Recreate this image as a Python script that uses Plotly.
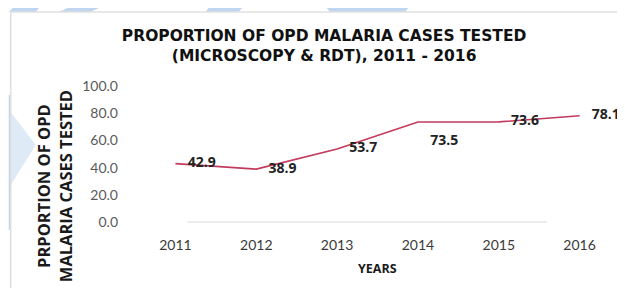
import plotly.graph_objects as go

years = ["2011", "2012", "2013", "2014", "2015", "2016"]
proportion_tested = [42.9, 38.9, 53.7, 73.5, 73.6, 78.1]
label_positions = ["middle right", "middle right", "middle right", "bottom right", "middle right", "middle right"]
y_ticks = [0, 20, 40, 60, 80, 100]

# page offset: browser body margin shifts the figure by 8px
OFF = 8
PAGE_W, PAGE_H = 625, 288
W, H = PAGE_W - OFF, PAGE_H - OFF
# plot area in page pixels
L, R, T, B = 134.5, 620.5, 86, 222


def px(x):
    return (x - L) / (R - L)


def py(y):
    return (B - y) / (B - T)


def poly(points):
    return "M " + " L ".join(f"{px(x):.4f},{py(y):.4f}" for x, y in points) + " Z"


fig = go.Figure()
fig.add_trace(go.Scatter(
    x=years, y=proportion_tested,
    mode="lines+markers+text",
    line=dict(color="#c23a5c", width=1.6),
    marker=dict(size=18, color="rgba(0,0,0,0)"),
    text=[f"{v:.1f}" for v in proportion_tested],
    textposition=label_positions,
    textfont=dict(family="Open Sans", size=14, color="#222222", weight="bold"),
    cliponaxis=False,
    hoverinfo="skip",
))

blue = "rgba(175,203,236,0.8)"
blue_faint = "rgba(175,203,236,0.4)"
shapes = [
    dict(type="path", path=poly([(20, 0), (45, 0), (35, 12), (8, 12)]), fillcolor=blue, line_width=0, layer="below"),
    dict(type="path", path=poly([(85, 0), (115, 0), (90, 12), (58, 12)]), fillcolor=blue, line_width=0, layer="below"),
    dict(type="path", path=poly([(215, 0), (250, 0), (238, 12), (205, 12)]), fillcolor=blue, line_width=0, layer="below"),
    dict(type="path", path=poly([(320, 0), (345, 0), (360, 8), (380, 8), (400, 0), (415, 0), (405, 12), (330, 12)]), fillcolor=blue, line_width=0, layer="below"),
    dict(type="path", path=poly([(8, 95), (10, 95), (10, 230), (8, 230)]), fillcolor=blue, line_width=0, layer="below"),
    dict(type="path", path=poly([(10, 112), (35, 145), (10, 185)]), fillcolor=blue_faint, line_width=0, layer="below"),
    dict(type="line", x0=px(9), x1=px(625), y0=py(12), y1=py(12), line=dict(color="#e0e0e0", width=1.5), layer="below"),
    dict(type="line", x0=px(10), x1=px(10), y0=py(12), y1=py(288), line=dict(color="#e0e0e0", width=1.5), layer="below"),
    dict(type="line", x0=px(187), x1=px(547), y0=0, y1=0, line=dict(color="#d9d9d9", width=1), layer="below"),
]
for s in shapes:
    s.setdefault("xref", "paper")
    s.setdefault("yref", "paper")

fig.update_layout(
    width=W, height=H,
    margin=dict(l=L - OFF, r=W - (R - OFF), t=T - OFF, b=H - (B - OFF)),
    paper_bgcolor="white",
    plot_bgcolor="rgba(0,0,0,0)",
    showlegend=False,
    shapes=shapes,
    title=dict(
        text="PROPORTION OF OPD MALARIA CASES TESTED<br>(MICROSCOPY &amp; RDT), 2011 - 2016",
        x=px(324), xanchor="center", xref="paper",
        y=1 - 33 / H, yanchor="top",
        font=dict(family="DejaVu Sans", size=15.5, color="#111111", weight="bold"),
    ),
    xaxis=dict(
        type="category", range=[-0.5, 5.5],
        showgrid=False, zeroline=False, showline=False,
        ticks="outside", ticklen=10, tickcolor="rgba(0,0,0,0)",
        tickfont=dict(family="Lato", size=14, color="#3a3a3a"),
    ),
    yaxis=dict(
        range=[0, 100], tickvals=y_ticks, tickformat=".1f",
        showgrid=False, zeroline=False, showline=False,
        ticks="", ticklabelstandoff=16,
        tickfont=dict(family="Lato", size=14, color="#5a5a5a"),
    ),
    annotations=[
        dict(text="PRPORTION OF OPD<br>MALARIA CASES TESTED", textangle=-90,
             xref="paper", yref="paper", x=px(53), y=py(186.5), xanchor="center", yanchor="middle",
             showarrow=False, font=dict(family="Open Sans", size=16.5, color="#1a1a1a", weight="bold")),
        dict(text="YEARS", xref="paper", yref="paper", x=px(378), y=py(268),
             xanchor="center", yanchor="middle", showarrow=False,
             font=dict(family="Open Sans", size=12.5, color="#1a1a1a", weight="bold")),
    ],
)

fig.write_html("out.html")
